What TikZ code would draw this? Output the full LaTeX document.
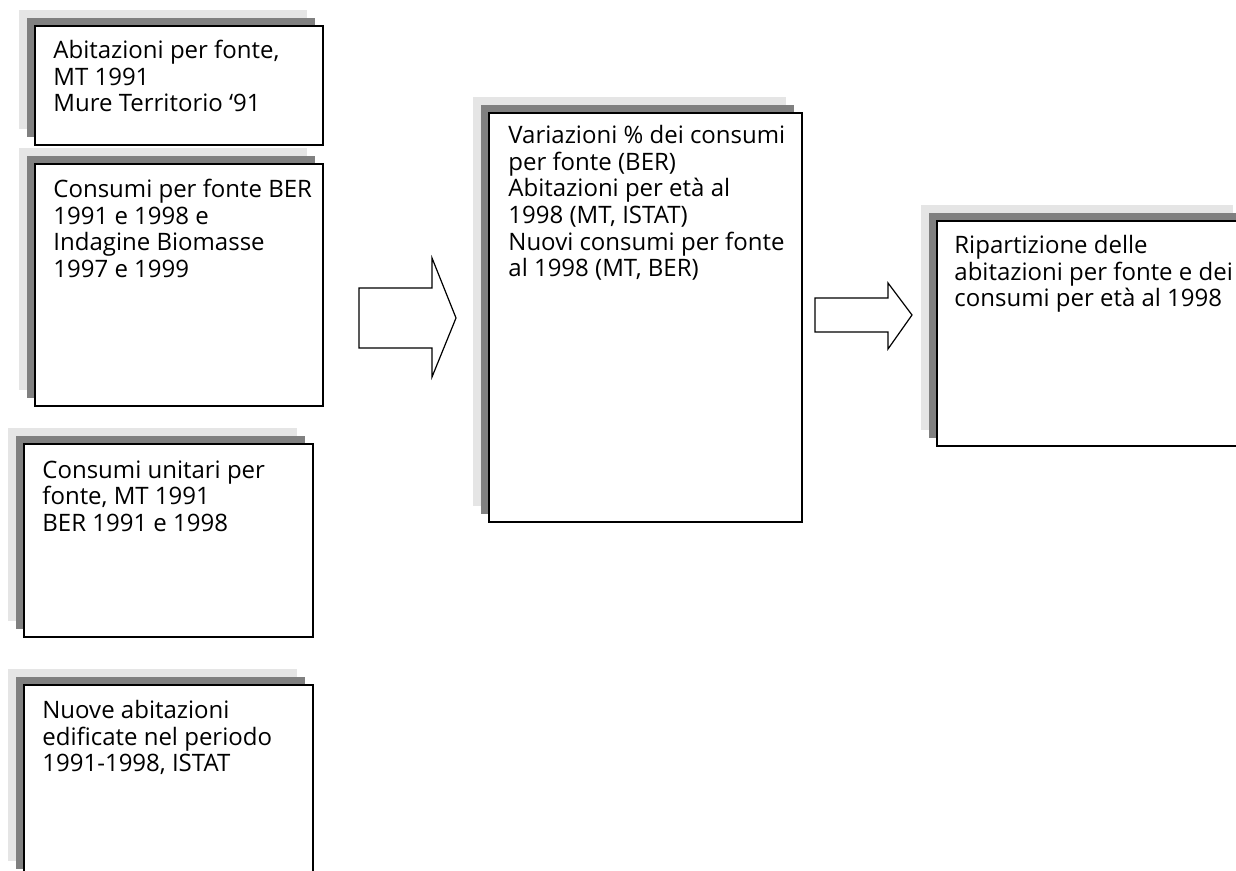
\documentclass[tikz,border=0pt]{standalone}
\usepackage{fontspec}
\setmainfont{Open Sans}
\usetikzlibrary{shadows}
\definecolor{shadeL}{RGB}{229,229,229}
\definecolor{shadeD}{RGB}{128,128,128}
\tikzset{
  srcbox/.style={draw,line width=0.9pt,fill=white,anchor=north west,inner sep=0pt,
    general shadow={fill=shadeL,shadow xshift=-8pt,shadow yshift=8pt},
    general shadow={fill=shadeD,shadow xshift=-4pt,shadow yshift=4pt}},
  boxtext/.style={anchor=north west,inner sep=0pt,align=left,
    font=\fontsize{12}{13.3}\selectfont},
  fatarrow/.style={draw,line width=0.6pt,fill=white,line join=miter}
}

\begin{document}
\begin{tikzpicture}[x=0.5pt,y=-0.5pt]
\useasboundingbox (0,0) rectangle (1236,871);
\clip (0,0) rectangle (1236,871);
% input boxes
\node[srcbox,minimum width=144pt,minimum height=59.5pt] (abit) at (34,25) {};
\node[boxtext] (abitT) at ([xshift=9.5pt,yshift=-7.5pt]abit.north west)
  {Abitazioni per fonte,\\MT 1991\\Mure Territorio ‘91};
\node[srcbox,minimum width=144pt,minimum height=121pt] (cons) at (34,163) {};
\node[boxtext] (consT) at ([xshift=9.5pt,yshift=-8pt]cons.north west)
  {Consumi per fonte BER\\1991 e 1998 e\\Indagine Biomasse\\1997 e 1999};
\node[srcbox,minimum width=144.5pt,minimum height=96.5pt] (unit) at (23,443) {};
\node[boxtext] (unitT) at ([xshift=9.5pt,yshift=-8.5pt]unit.north west)
  {Consumi unitari per\\fonte, MT 1991\\BER 1991 e 1998};
\node[srcbox,minimum width=144.5pt,minimum height=96pt] (nuove) at (23,684) {};
\node[boxtext] (nuoveT) at ([xshift=9.5pt,yshift=-8pt]nuove.north west)
  {Nuove abitazioni\\edificate nel periodo\\1991-1998, ISTAT};
% middle and result
\node[srcbox,minimum width=156.5pt,minimum height=204.5pt] (var) at (488,112) {};
\node[boxtext] (varT) at ([xshift=10pt,yshift=-6.5pt]var.north west)
  {Variazioni \% dei consumi\\per fonte (BER)\\Abitazioni per età al\\1998 (MT, ISTAT)\\Nuovi consumi per fonte\\al 1998 (MT, BER)};
\node[srcbox,minimum width=156pt,minimum height=112.5pt] (rip) at (936,220) {};
\node[boxtext] (ripT) at ([xshift=9pt,yshift=-7.5pt]rip.north west)
  {Ripartizione delle\\abitazioni per fonte e dei\\consumi per età al 1998};
% block arrows
\draw[fatarrow] (359,288) -- (432,288) -- (432,258) -- (456,318) -- (432,377)
  -- (432,348) -- (359,348) -- cycle;
\draw[fatarrow] (815,298) -- (888,298) -- (888,283) -- (912,315) -- (888,349)
  -- (888,332) -- (815,332) -- cycle;
\end{tikzpicture}
\end{document}
